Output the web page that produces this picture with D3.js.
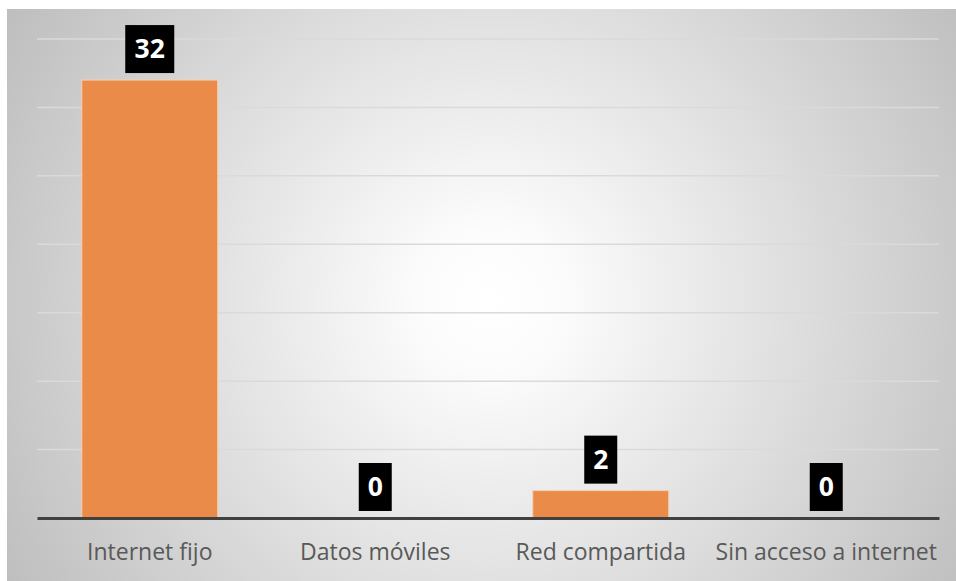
<!DOCTYPE html>
<html>
<head>
<meta charset="utf-8">
<script src="https://cdn.jsdelivr.net/npm/d3@7"></script>
<style>
  html, body { margin: 0; padding: 0; background: #fff; }
  svg { display: block; }
</style>
</head>
<body>
<svg id="chart" width="956" height="581"></svg>
<script>
// Tipo de conexión a internet
const categories = ["Internet fijo", "Datos móviles", "Red compartida", "Sin acceso a internet"];
const values = [32, 0, 2, 0];
const yTicks = [0, 5, 10, 15, 20, 25, 30, 35];

const W = 956, H = 581;
const svg = d3.select("#chart");

// Background panel with soft radial shading
const defs = svg.append("defs");
const grad = defs.append("radialGradient")
  .attr("id", "bg")
  .attr("gradientUnits", "userSpaceOnUse")
  .attr("cx", 490).attr("cy", 300).attr("r", 570);
grad.append("stop").attr("offset", "0%").attr("stop-color", "#ffffff");
grad.append("stop").attr("offset", "12%").attr("stop-color", "#fcfcfc");
grad.append("stop").attr("offset", "100%").attr("stop-color", "#bdbdbd");

svg.append("rect")
  .attr("x", 7).attr("y", 9)
  .attr("width", W - 7).attr("height", H - 9)
  .attr("fill", "url(#bg)");

const margin = { left: 37, right: 17 };
const x = d3.scaleBand()
  .domain(categories)
  .range([margin.left, W - margin.right])
  .paddingInner(0.397)
  .paddingOuter(0.1985);

const y = d3.scaleLinear()
  .domain([0, 35])
  .range([518, 39]);

// Horizontal gridlines
svg.append("g")
  .selectAll("line")
  .data(yTicks.filter(d => d > 0))
  .join("line")
  .attr("x1", margin.left).attr("x2", W - margin.right)
  .attr("y1", d => y(d)).attr("y2", d => y(d))
  .attr("stroke", "#dadada")
  .attr("stroke-width", 1.5);

// Bars
svg.append("g")
  .selectAll("rect")
  .data(categories)
  .join("rect")
  .attr("x", d => x(d))
  .attr("width", x.bandwidth())
  .attr("y", (d, i) => y(values[i]))
  .attr("height", (d, i) => y(0) - y(values[i]))
  .attr("fill", "#ea8b4a")
  .attr("stroke", "#f6d0b4")
  .attr("stroke-width", 1);

// Baseline axis with category labels
const xAxis = d3.axisBottom(x).tickSize(0).tickPadding(26);
const gx = svg.append("g")
  .attr("transform", `translate(0,${y(0)})`)
  .call(xAxis);
gx.select(".domain")
  .attr("stroke", "#404040")
  .attr("stroke-width", 3);
gx.selectAll("text")
  .attr("fill", "#595959")
  .style("font-family", "'Open Sans', sans-serif")
  .style("font-size", "23px");

// Value labels in black boxes
const labels = svg.append("g")
  .selectAll("g")
  .data(categories)
  .join("g")
  .attr("transform", (d, i) => `translate(${x(d) + x.bandwidth() / 2},${y(values[i]) - 7})`);

labels.each(function(d, i) {
  const g = d3.select(this);
  const txt = String(values[i]);
  const bw = txt.length > 1 ? 49 : 33;
  g.append("rect")
    .attr("x", -bw / 2).attr("y", -48)
    .attr("width", bw).attr("height", 48)
    .attr("fill", "#000");
  g.append("text")
    .attr("x", 0).attr("y", -15)
    .attr("text-anchor", "middle")
    .attr("fill", "#fff")
    .style("font-family", "'Open Sans', sans-serif")
    .style("font-weight", "700")
    .style("font-size", "26.5px")
    .text(txt);
});
</script>
</body>
</html>
